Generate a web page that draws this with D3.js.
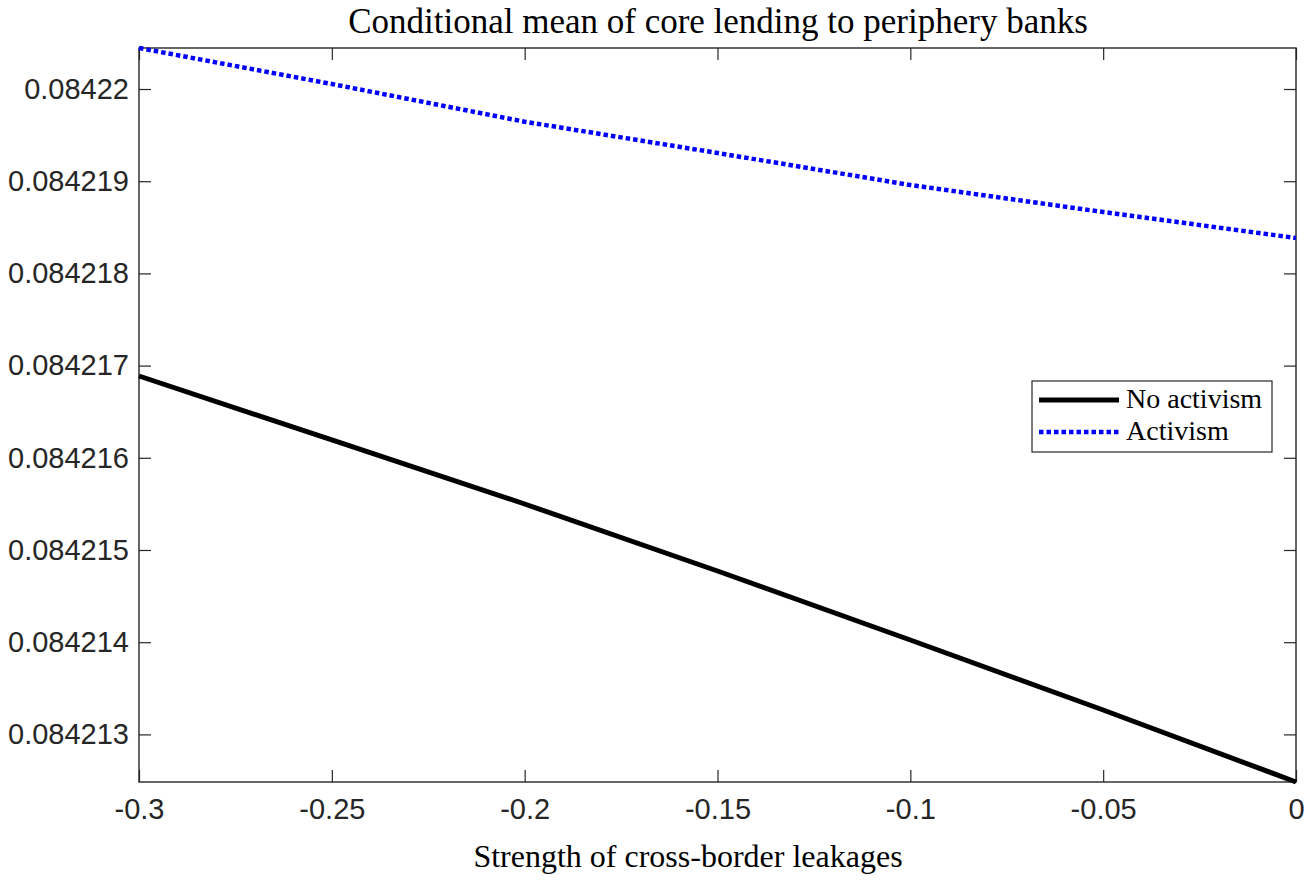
<!DOCTYPE html>
<html>
<head>
<meta charset="utf-8">
<script src="https://cdn.jsdelivr.net/npm/d3@7"></script>
<style>
body{margin:0;background:#fff;}
</style>
</head>
<body>
<script>
//begin data
var xs=[-0.3,-0.25,-0.2,-0.15,-0.1,-0.05,0];
var noActivism=[0.0842168872,0.0842161931,0.0842154989,0.0842147722,0.0842140239,0.0842132646,0.0842124837];
var activism=[0.0842204447,0.0842200542,0.0842196453,0.0842193059,0.0842189588,0.0842186659,0.0842183839];
var xTicks=[-0.3,-0.25,-0.2,-0.15,-0.1,-0.05,0];
var yTicks=[0.084213,0.084214,0.084215,0.084216,0.084217,0.084218,0.084219,0.08422];
var seriesNames=["No activism","Activism"];
//end data

var W=1310,H=883;
var plotL=139,plotR=1296,plotT=48,plotB=782;
var axisCol="#262626";
var serif="'Liberation Serif','Times New Roman',serif";

var svg=d3.select("body").append("svg")
    .attr("width",W)
    .attr("height",H);

var allY=noActivism.concat(activism);
var x=d3.scaleLinear().domain([-0.3,0]).range([plotL,plotR]);
var y=d3.scaleLinear().domain([d3.min(allY),d3.max(allY)]).range([plotB,plotT]);

function fmt(d,n){return String(+d.toFixed(n));}

//axes, ticks inward on all four sides
var gx=svg.append("g")
    .attr("transform","translate(0,"+plotB+")")
    .call(d3.axisBottom(x).tickValues(xTicks).tickSize(-12).tickPadding(16).tickFormat(function(d){return fmt(d,2);}));
var gxt=svg.append("g")
    .attr("transform","translate(0,"+plotT+")")
    .call(d3.axisTop(x).tickValues(xTicks).tickSize(-12).tickFormat(""));
var gy=svg.append("g")
    .attr("transform","translate("+plotL+",0)")
    .call(d3.axisLeft(y).tickValues(yTicks).tickSize(-12).tickPadding(10).tickFormat(function(d){return fmt(d,6);}));
var gyr=svg.append("g")
    .attr("transform","translate("+plotR+",0)")
    .call(d3.axisRight(y).tickValues(yTicks).tickSize(-12).tickFormat(""));

[gx,gxt,gy,gyr].forEach(function(g){
    g.select(".domain").remove();
    g.selectAll("line").attr("stroke",axisCol).attr("stroke-width",1.2);
    g.selectAll("text")
     .attr("fill",axisCol)
     .style("font-family","'Liberation Sans',Arial,sans-serif")
     .style("font-size","29px");
});
gx.selectAll("text").attr("dy","0.74em");

//box
svg.append("rect")
    .attr("x",plotL)
    .attr("y",plotT)
    .attr("width",plotR-plotL)
    .attr("height",plotB-plotT)
    .attr("fill","none")
    .attr("stroke",axisCol)
    .attr("stroke-width",1.4);

//lines
var line=d3.line()
    .x(function(d,i){return x(xs[i]);})
    .y(function(d){return y(d);});

svg.append("path")
    .attr("d",line(noActivism))
    .attr("fill","none")
    .attr("stroke","#000")
    .attr("stroke-width",5);

svg.append("path")
    .attr("d",line(activism))
    .attr("fill","none")
    .attr("stroke","#0000ff")
    .attr("stroke-width",4.5)
    .attr("stroke-dasharray","4.5,3");

//title and label
svg.append("text")
    .attr("x",718)
    .attr("y",33)
    .attr("text-anchor","middle")
    .style("font-family",serif)
    .style("font-size","35px")
    .attr("fill","#000")
    .text("Conditional mean of core lending to periphery banks");

svg.append("text")
    .attr("x",688)
    .attr("y",867)
    .attr("text-anchor","middle")
    .style("font-family",serif)
    .style("font-size","32px")
    .attr("fill","#000")
    .text("Strength of cross-border leakages");

//legend
var lg=svg.append("g");
lg.append("rect")
    .attr("x",1032)
    .attr("y",381)
    .attr("width",240)
    .attr("height",71)
    .attr("fill","#fff")
    .attr("stroke",axisCol)
    .attr("stroke-width",1.2);
var legRows=[{name:seriesNames[0],col:"#000",dash:null,w:5},
             {name:seriesNames[1],col:"#0000ff",dash:"4.5,3",w:4.5}];
legRows.forEach(function(d,i){
    var ly=400+i*32;
    lg.append("line")
      .attr("x1",1039).attr("x2",1119)
      .attr("y1",ly).attr("y2",ly)
      .attr("stroke",d.col)
      .attr("stroke-width",d.w)
      .attr("stroke-dasharray",d.dash);
    lg.append("text")
      .attr("x",1126)
      .attr("y",ly+8)
      .style("font-family",serif)
      .style("font-size","28px")
      .attr("fill","#000")
      .text(d.name);
});
</script>
</body>
</html>
